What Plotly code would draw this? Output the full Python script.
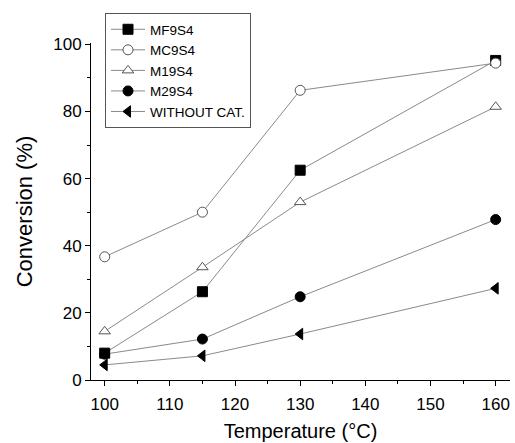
import plotly.graph_objects as go

temps = [100, 115, 130, 160]
mf9s4 = [8.0, 26.3, 62.5, 95.2]
mc9s4 = [36.7, 50.0, 86.3, 94.4]
m19s4 = [14.5, 33.6, 53.0, 81.4]
m29s4 = [7.7, 12.2, 24.8, 47.8]
without_cat = [4.5, 7.2, 13.7, 27.3]

series = [
    ("MF9S4", mf9s4, "square", "black", "black"),
    ("MC9S4", mc9s4, "circle", "white", "#555555"),
    ("M19S4", m19s4, "triangle-up", "white", "#555555"),
    ("M29S4", m29s4, "circle", "black", "black"),
    ("WITHOUT CAT.", without_cat, "triangle-left", "black", "black"),
]

fig = go.Figure()
for name, vals, sym, fill, edge in series:
    fig.add_trace(go.Scatter(
        x=temps, y=vals, name=name, mode="lines+markers",
        line=dict(color="#8a8a8a", width=1),
        marker=dict(symbol=sym, size=10, color=fill, line=dict(color=edge, width=1)),
        cliponaxis=False,
    ))

fig.update_layout(
    width=515, height=443,
    margin=dict(l=91, r=5, t=43, b=63, autoexpand=False),
    paper_bgcolor="white", plot_bgcolor="white",
    font=dict(family="Liberation Sans, Arial, sans-serif", color="black"),
    showlegend=True,
    legend=dict(x=(105 - 91) / 419, y=(380 - 13) / 337,
                xanchor="left", yanchor="top",
                bordercolor="#555555", borderwidth=1, bgcolor="white",
                font=dict(size=13.5), tracegroupgap=0, itemwidth=34),
)
fig.update_xaxes(
    range=[97.9, 162.2], tickvals=[100, 110, 120, 130, 140, 150, 160],
    showline=True, linecolor="black", linewidth=1, showgrid=False, zeroline=False,
    ticks="outside", ticklen=5, tickcolor="black", tickfont=dict(size=17),
    ticklabelstandoff=4,
    minor=dict(dtick=5, ticks="outside", ticklen=3, tickcolor="black", showgrid=False),
    title=dict(text="Temperature (°C)", font=dict(size=20), standoff=10),
    automargin=False,
)
fig.update_yaxes(
    range=[0, 100.4], tickvals=[0, 20, 40, 60, 80, 100],
    showline=True, linecolor="black", linewidth=1, showgrid=False, zeroline=False,
    ticks="outside", ticklen=5, tickcolor="black", tickfont=dict(size=17),
    minor=dict(dtick=10, ticks="outside", ticklen=3, tickcolor="black", showgrid=False),
    title=dict(text="Conversion (%)", font=dict(size=22), standoff=14),
    automargin=False,
)

fig.write_html("out.html", config={"displayModeBar": False},
               post_script="document.body.style.margin='0';document.body.style.overflow='hidden';")
